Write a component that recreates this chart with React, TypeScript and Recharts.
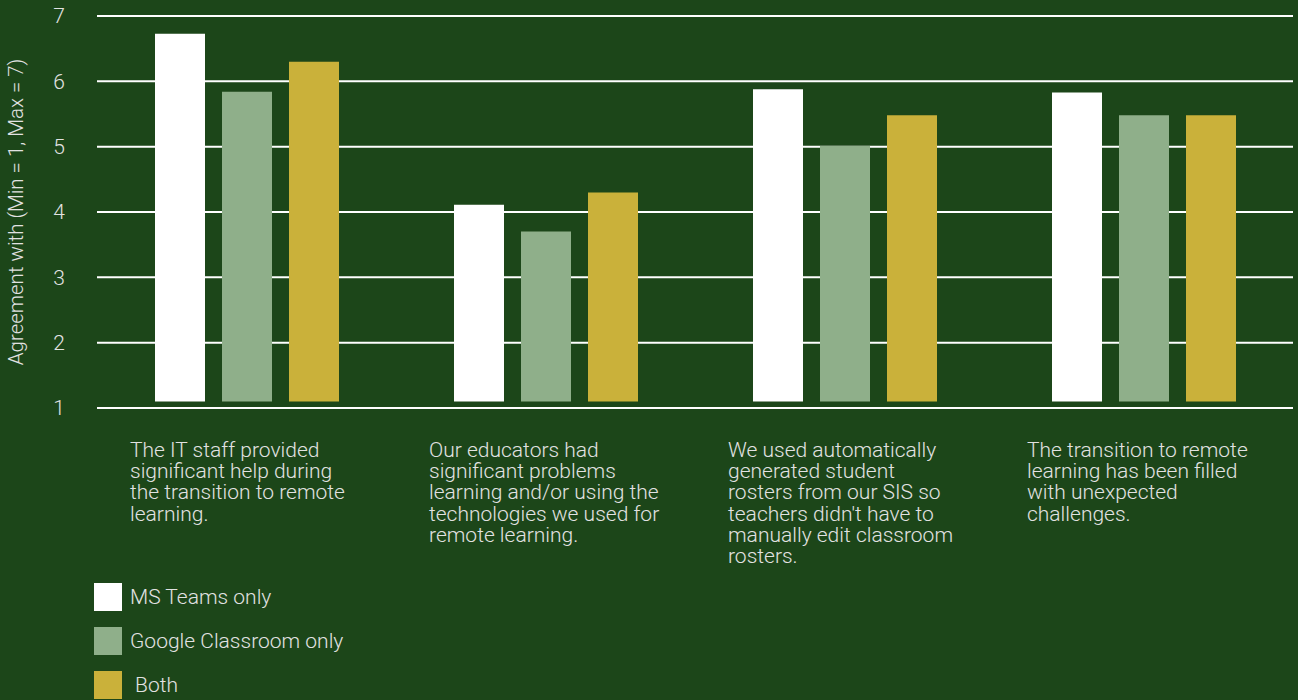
import { BarChart, Bar, XAxis, YAxis, CartesianGrid, Legend } from 'recharts';

// statements shown along the x axis (line breaks as in the source)
const statements = [
  'The IT staff provided\nsignificant help during\nthe transition to remote\nlearning.',
  'Our educators had\nsignificant problems\nlearning and/or using the\ntechnologies we used for\nremote learning.',
  "We used automatically\ngenerated student\nrosters from our SIS so\nteachers didn't have to\nmanually edit classroom\nrosters.",
  'The transition to remote\nlearning has been filled\nwith unexpected\nchallenges.',
];

const msTeams = [6.73, 4.11, 5.88, 5.83];
const googleClassroom = [5.84, 3.7, 5.01, 5.48];
const both = [6.3, 4.3, 5.48, 5.48];

// bars in the source sit a little above the axis minimum
const barFloor = 1.1;
const yTicks = [1, 2, 3, 4, 5, 6, 7];

const BG = '#1c4619';
const TEXT = '#e2e2e2';
const FONT = '"Roboto Light", Roboto, "Noto Sans", sans-serif';

const series = [
  { key: 'ms', name: 'MS Teams only', color: '#ffffff' },
  { key: 'google', name: 'Google Classroom only', color: '#8faf8a' },
  { key: 'both', name: '\u00a0Both', color: '#cab13a' },
];

const data = statements.map((label, i) => ({
  label,
  ms: [barFloor, msTeams[i]],
  google: [barFloor, googleClassroom[i]],
  both: [barFloor, both[i]],
}));

function StatementTick({ x, y, payload }: any) {
  const lines = String(payload.value).split('\n');
  const left = x - 116.5;
  return (
    <text x={left} y={y + 49} fill={TEXT} fontSize={21} fontFamily={FONT} fontWeight={300}>
      {lines.map((line, i) => (
        <tspan key={i} x={left} dy={i === 0 ? 0 : 21.2}>
          {line}
        </tspan>
      ))}
    </text>
  );
}

function SwatchLegend() {
  return (
    <div style={{ fontFamily: FONT, fontWeight: 300 }}>
      {series.map((s) => (
        <div key={s.key} style={{ display: 'flex', alignItems: 'center', height: 28, marginBottom: 16 }}>
          <div style={{ width: 28, height: 28, background: s.color, marginRight: 8 }} />
          <span style={{ color: TEXT, fontSize: 21, whiteSpace: 'pre' }}>{s.name}</span>
        </div>
      ))}
    </div>
  );
}

export default function App() {
  return (
    <div style={{ position: 'absolute', left: 0, top: 0, width: 1298, height: 700, background: BG, overflow: 'hidden' }}>
      <BarChart
        width={1298}
        height={700}
        data={data}
        margin={{ top: 16, right: 5, left: 0, bottom: 122 }}
        barSize={50}
        barGap={17}
      >
        <CartesianGrid horizontal vertical={false} stroke="#ffffff" strokeWidth={2} />
        <XAxis
          dataKey="label"
          height={170}
          axisLine={false}
          tickLine={false}
          tickSize={0}
          tickMargin={0}
          interval={0}
          tick={<StatementTick />}
        />
        <YAxis
          width={97}
          domain={[1, 7]}
          ticks={yTicks}
          allowDataOverflow
          axisLine={false}
          tickLine={false}
          tickSize={0}
          tickMargin={32}
          tick={{ fill: TEXT, fontSize: 21, fontFamily: FONT, fontWeight: 300 }}
          label={{
            value: 'Agreement with (Min = 1, Max = 7)',
            angle: -90,
            position: 'center',
            dx: -32.5,
            fill: TEXT,
            fontSize: 20.5,
            fontFamily: FONT,
            fontWeight: 300,
          }}
        />
        <Legend
          layout="vertical"
          align="center"
          verticalAlign="middle"
          content={<SwatchLegend />}
          wrapperStyle={{ left: 94, top: 583, width: 'auto', height: 'auto' }}
        />
        {series.map((s) => (
          <Bar key={s.key} dataKey={s.key} name={s.name} fill={s.color} isAnimationActive={false} />
        ))}
      </BarChart>
    </div>
  );
}
